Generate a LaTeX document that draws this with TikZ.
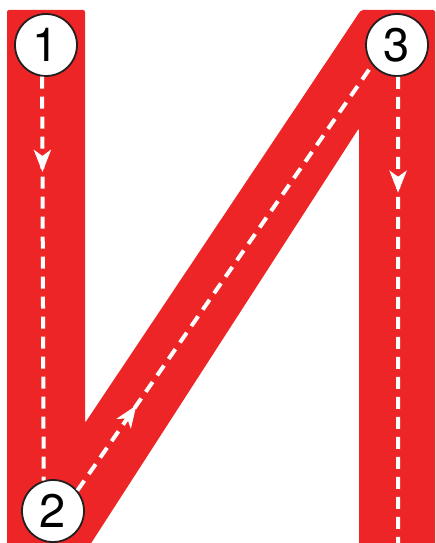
\documentclass[tikz,border=0pt]{standalone}
\usepackage{fontspec}
\setsansfont{TeX Gyre Heros}
\usetikzlibrary{arrows.meta,decorations.markings}
\definecolor{letterred}{HTML}{EE2526}
\definecolor{ink}{HTML}{231F20}
\tikzset{
  letter/.style={fill=letterred, draw=none, rounded corners=2pt},
  num/.style={circle, draw=ink, line width=1.8pt, fill=white, minimum size=62pt,
              inner sep=0pt, font=\sffamily\fontsize{47}{47}\selectfont},
  guide/.style={draw=white, line width=4pt, dash pattern=on 12pt off 8pt},
  tipat/.style={postaction={decorate}, decoration={markings,
    mark=at position #1 with {\arrow[white, solid]{Stealth[length=22pt,width=17pt,inset=6pt]}}}},
}

\begin{document}
\begin{tikzpicture}[x=1pt,y=-1pt]
\useasboundingbox (0,0) rectangle (436,543);
% letter body
\fill[letter] (7,548) -- (7,10) -- (85,10) -- (85,423) -- (361,10) -- (435,10)
   -- (435,548) -- (359,548) -- (359,128) -- (88,548) -- cycle;
% stroke numbers
\node[num] (n1) at (46,45) {1};
\node[num] (n2) at (53,511) {2};
\node[num] (n3) at (397,45) {3};
\coordinate (end3) at (398,546);
% stroke guides
\draw[guide, tipat=0.236] (n1.263) -- (n2.107);
\draw[guide, tipat=0.2] (n2.40) -- (n3.219);
\draw[guide, tipat=0.247] (n3.272) -- (end3);
\end{tikzpicture}
\end{document}
